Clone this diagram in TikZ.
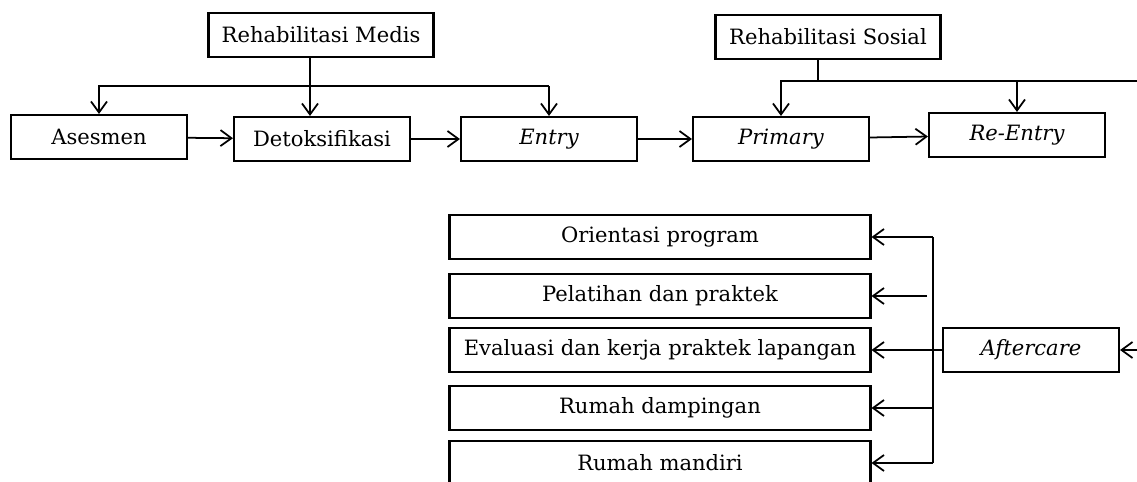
\documentclass[tikz,border=0pt]{standalone}
\usepackage{fontspec}
\setmainfont{DejaVu Serif}
\usetikzlibrary{arrows.meta}

\begin{document}
\begin{tikzpicture}[x=0.02cm,y=-0.02cm,>={Straight Barb[length=2.2mm,width=3.2mm]},
    font=\fontsize{12}{14}\selectfont,
    tahap/.style={draw,line width=1.2pt,minimum width=3.52cm,minimum height=0.88cm,inner sep=0pt},
    rehab/.style={tahap,minimum width=4.5cm},
    lanjut/.style={tahap,minimum width=8.42cm,minimum height=0.87cm},
    garis/.style={line width=1pt}]
    \useasboundingbox[fill=white] (0,0) rectangle (1137,481);
    % rehabilitasi
    \node[rehab] (medis) at (321,35) {Rehabilitasi Medis};
    \node[rehab] (sosial) at (828,37) {Rehabilitasi Sosial};
    % tahapan utama
    \node[tahap] (asesmen) at (99,137) {Asesmen};
    \node[tahap] (detoks) at (322,139) {Detoksifikasi};
    \node[tahap] (entry) at (549,139) {\itshape Entry};
    \node[tahap] (primary) at (781,139) {\itshape Primary};
    \node[tahap] (reentry) at (1017,135) {\itshape Re-Entry};
    \node[tahap] (aftercare) at (1031,350) {\itshape Aftercare};
    % program aftercare
    \node[lanjut] (orientasi) at (660,237) {Orientasi program};
    \node[lanjut] (pelatihan) at (660,296) {Pelatihan dan praktek};
    \node[lanjut] (evaluasi) at (660,350) {Evaluasi dan kerja praktek lapangan};
    \node[lanjut] (dampingan) at (660,408) {Rumah dampingan};
    \node[lanjut] (mandiri) at (660,463) {Rumah mandiri};
    % titik percabangan
    \coordinate (mbus) at (310,86);
    \coordinate (sbus) at (818,81);
    \coordinate (abus) at (933,350);
    \coordinate (pgap) at (927,296);
    \coordinate (ujungA) at (1137,81);
    \coordinate (ujungB) at (1137,350);
    % alur utama
    \draw[garis,->] (asesmen) -- (detoks);
    \draw[garis,->] (detoks) -- (entry);
    \draw[garis,->] (entry) -- (primary);
    \draw[garis,->] (primary) -- (reentry);
    % cabang rehabilitasi medis
    \draw[garis,->] (mbus |- medis.south) -- (mbus |- detoks.north);
    \draw[garis,->] (mbus -| entry.north) -- (mbus -| asesmen.north) -- (asesmen.north);
    \draw[garis,->] (mbus -| entry.north) -- (entry.north);
    % cabang rehabilitasi sosial
    \draw[garis] (sbus |- sosial.south) -- (sbus);
    \draw[garis,->] (ujungA) -- (sbus -| primary.north) -- (primary.north);
    \draw[garis,->] (sbus -| reentry.north) -- (reentry.north);
    \draw[garis,->] (ujungB) -- (aftercare.east);
    % cabang aftercare
    \draw[garis] (abus |- orientasi.east) -- (abus |- mandiri.east);
    \draw[garis,->] (abus |- orientasi.east) -- (orientasi.east);
    \draw[garis,->] (pgap) -- (pelatihan.east);
    \draw[garis,->] (aftercare.west) -- (evaluasi.east);
    \draw[garis,->] (abus |- dampingan.east) -- (dampingan.east);
    \draw[garis,->] (abus |- mandiri.east) -- (mandiri.east);
\end{tikzpicture}
\end{document}
